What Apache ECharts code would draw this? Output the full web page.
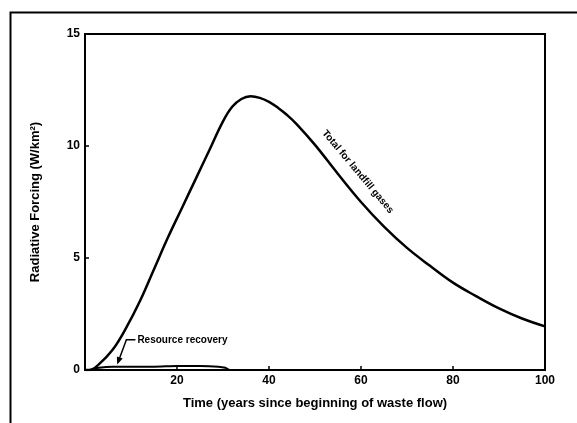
<!DOCTYPE html>
<html lang="en">
<head>
    <meta charset="UTF-8">
    <title>Radiative Forcing</title>
    <style>
        html, body { margin: 0; padding: 0; background: #fff; }
    </style>
</head>
<body>
<div id="main" style="width:577px;height:423px;"></div>
</body>
<script src="https://cdn.jsdelivr.net/npm/echarts@6/dist/echarts.min.js"></script>
<script>
    // years since beginning of waste flow
    var totalYears = [0, 1, 3, 6, 9, 12, 15, 18, 21, 24, 27, 30, 32, 34, 36, 38, 40, 42, 44, 46, 50, 55, 60, 65, 70, 75, 80, 85, 90, 95, 100];
    // total for landfill gases (W/km2)
    var totalValues = [0, 0, 0.25, 0.9, 1.9, 3.1, 4.5, 5.9, 7.2, 8.5, 9.8, 11.1, 11.75, 12.1, 12.22, 12.15, 11.97, 11.7, 11.37, 10.98, 10.05, 8.75, 7.5, 6.4, 5.45, 4.65, 3.9, 3.3, 2.75, 2.3, 1.95];
    // resource recovery
    var recoveryYears = [1, 3, 6, 10, 15, 20, 25, 29, 30.5, 31.5, 40, 60, 80, 100];
    var recoveryValues = [0, 0.1, 0.15, 0.15, 0.15, 0.18, 0.18, 0.15, 0.1, 0, 0, 0, 0, 0];

    var xTicks = [0, 20, 40, 60, 80, 100];
    var yTicks = [0, 5, 10, 15];

    function pairs(xs, ys) {
        var out = [];
        for (var i = 0; i < xs.length; i++) {
            out.push([xs[i], ys[i]]);
        }
        return out;
    }

    var chart = echarts.init(document.getElementById('main'));
    var font = 'Liberation Sans, Arial, sans-serif';

    var option = {
        animation: false,
        grid: {
            left: 85, right: 32, top: 34, bottom: 53,
            show: true, borderColor: '#000', borderWidth: 2
        },
        xAxis: {
            type: 'value',
            min: xTicks[0], max: xTicks[xTicks.length - 1], interval: 20,
            name: 'Time (years since beginning of waste flow)',
            nameLocation: 'middle', nameGap: 27,
            nameTextStyle: { color: '#000', fontSize: 13, fontWeight: 'bold', fontFamily: font },
            axisLine: { lineStyle: { color: '#000', width: 2 } },
            axisTick: { inside: true, length: 4, lineStyle: { color: '#000', width: 1.5 } },
            axisLabel: {
                color: '#000', fontSize: 12, fontWeight: 'bold', fontFamily: font, margin: 5,
                showMinLabel: false
            },
            splitLine: { show: false }
        },
        yAxis: {
            type: 'value',
            min: yTicks[0], max: yTicks[yTicks.length - 1], interval: 5,
            name: 'Radiative Forcing (W/km\u00b2)',
            nameLocation: 'middle', nameGap: 43, nameRotate: 90,
            nameTextStyle: { color: '#000', fontSize: 13, fontWeight: 'bold', fontFamily: font },
            axisLine: { lineStyle: { color: '#000', width: 2 } },
            axisTick: { inside: true, length: 4, lineStyle: { color: '#000', width: 1.5 } },
            axisLabel: { color: '#000', fontSize: 12, fontWeight: 'bold', fontFamily: font, margin: 5 },
            splitLine: { show: false }
        },
        series: [
            {
                name: 'Total for landfill gases',
                type: 'line',
                data: pairs(totalYears, totalValues),
                smooth: 0.4,
                symbol: 'none',
                lineStyle: { color: '#000', width: 2.5 }
            },
            {
                name: 'Resource recovery',
                type: 'line',
                data: pairs(recoveryYears, recoveryValues),
                smooth: 0.3,
                symbol: 'none',
                lineStyle: { color: '#000', width: 2 }
            }
        ]
    };
    chart.setOption(option);

    // annotations placed from data coordinates
    var lblPos = chart.convertToPixel({ gridIndex: 0 }, [59.3, 8.85]);
    var bend = chart.convertToPixel({ gridIndex: 0 }, [9.0, 1.35]);
    var tip = chart.convertToPixel({ gridIndex: 0 }, [7.0, 0.25]);
    var ang = Math.atan2(tip[1] - bend[1], tip[0] - bend[0]);
    var ah = 8, aw = 0.4;

    chart.setOption({
        graphic: [
            {
                type: 'rect', left: 8, top: 10, silent: true,
                shape: { x: 0, y: 0, width: 620, height: 460 },
                style: { fill: 'none', stroke: '#000', lineWidth: 2 }
            },
            {
                type: 'text', x: lblPos[0], y: lblPos[1], rotation: -50 * Math.PI / 180,
                style: {
                    text: 'Total for landfill gases', fill: '#000',
                    font: 'bold 10px ' + font, align: 'center', verticalAlign: 'middle'
                }
            },
            {
                type: 'text', x: bend[0] + 11, y: bend[1],
                style: {
                    text: 'Resource recovery', fill: '#000',
                    font: 'bold 10px ' + font, align: 'left', verticalAlign: 'middle'
                }
            },
            {
                type: 'polyline',
                shape: { points: [[bend[0] + 9, bend[1]], bend, [tip[0] - ah * Math.cos(ang) * 0.6, tip[1] - ah * Math.sin(ang) * 0.6]] },
                style: { stroke: '#000', lineWidth: 1.5, fill: 'none' }
            },
            {
                type: 'polygon',
                shape: {
                    points: [
                        tip,
                        [tip[0] - ah * Math.cos(ang - aw), tip[1] - ah * Math.sin(ang - aw)],
                        [tip[0] - ah * Math.cos(ang + aw), tip[1] - ah * Math.sin(ang + aw)]
                    ]
                },
                style: { fill: '#000' }
            }
        ]
    });
</script>
</html>
